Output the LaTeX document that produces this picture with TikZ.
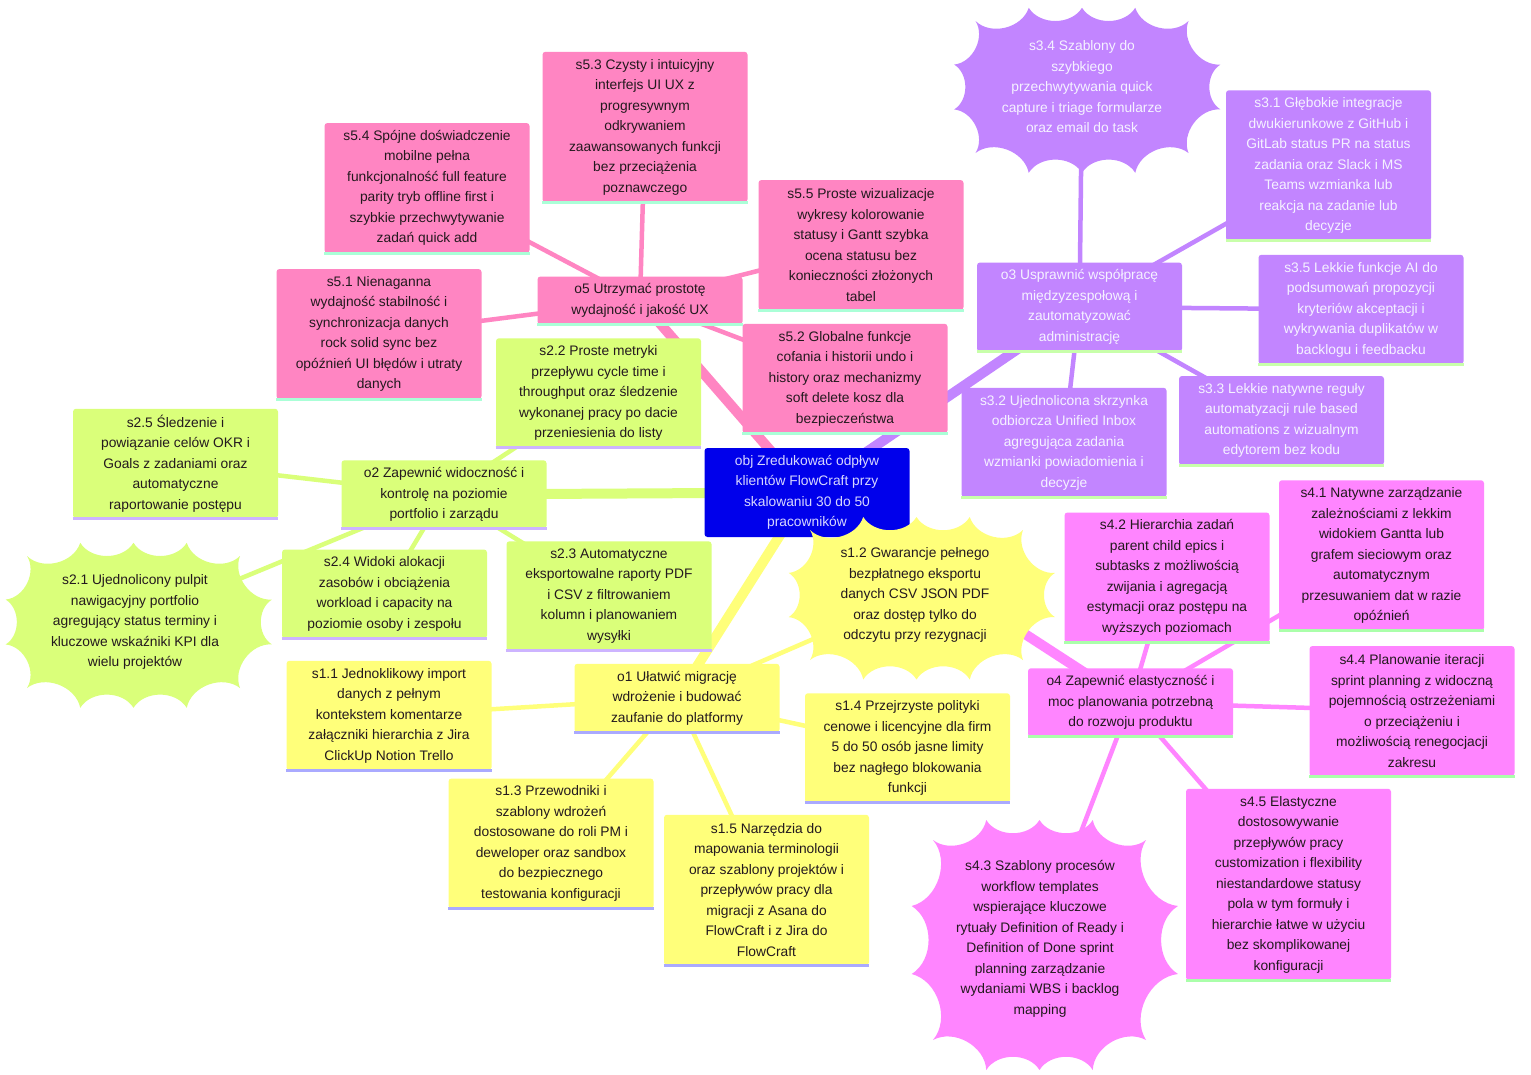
\documentclass[tikz,border=0pt]{standalone}
\usepackage{fontspec}
\setmainfont{Liberation Sans}
\pgfdeclarelayer{background}
\pgfsetlayers{background,main}
\definecolor{cY}{RGB}{255,255,122}
\definecolor{cG}{RGB}{218,255,122}
\definecolor{cP}{RGB}{194,133,255}
\definecolor{cM}{RGB}{255,133,255}
\definecolor{cK}{RGB}{255,133,194}
\definecolor{cRoot}{RGB}{0,0,235}
\definecolor{lY}{RGB}{170,170,255}
\definecolor{lG}{RGB}{205,180,255}
\definecolor{lP}{RGB}{200,255,170}
\definecolor{lM}{RGB}{170,255,170}
\definecolor{lK}{RGB}{170,255,215}
\definecolor{tDark}{RGB}{35,25,30}
\definecolor{tLight}{RGB}{245,242,255}
\definecolor{tRoot}{RGB}{215,215,255}
\tikzset{
  base/.style={rounded corners=3pt, minimum width=205pt, align=center, inner sep=0pt,
    font=\fontsize{13.8pt}{20.5pt}\selectfont},
  nl/.style={minimum height={#1*20.5pt+7pt}},
  ybox/.style={base, fill=cY, text=tDark},
  gbox/.style={base, fill=cG, text=tDark},
  pbox/.style={base, fill=cP, text=tLight},
  mbox/.style={base, fill=cM, text=tDark},
  kbox/.style={base, fill=cK, text=tDark},
  rootbox/.style={base, fill=cRoot, text=tRoot},
  bangtext/.style={align=center, inner sep=0pt, font=\fontsize{13.8pt}{20.5pt}\selectfont},
  redge/.style={line width=10pt},
  cedge/.style={line width=4.5pt},
}
\newcommand{\botline}[2]{\draw[line width=3pt,#2] (#1.south west) -- (#1.south east);}
\newcommand{\bangb}{58}
\newcommand{\bangfill}[5]{%
  \fill[#5] (#1,#2)
  to[bend right=\bangb] ({#1+0.25*#3},{#2-0.1*#4})
  to[bend right=\bangb] ({#1+0.5*#3},{#2-0.1*#4})
  to[bend right=\bangb] ({#1+0.75*#3},{#2-0.1*#4})
  to[bend right=\bangb] ({#1+#3},{#2})
  to[bend right=\bangb] ({#1+1.15*#3},{#2+0.33*#4})
  to[bend right=\bangb] ({#1+1.15*#3},{#2+0.67*#4})
  to[bend right=\bangb] ({#1+#3},{#2+#4})
  to[bend right=\bangb] ({#1+0.75*#3},{#2+1.15*#4})
  to[bend right=\bangb] ({#1+0.5*#3},{#2+1.15*#4})
  to[bend right=\bangb] ({#1+0.25*#3},{#2+1.15*#4})
  to[bend right=\bangb] ({#1},{#2+#4})
  to[bend right=\bangb] ({#1-0.1*#3},{#2+0.67*#4})
  to[bend right=\bangb] ({#1-0.1*#3},{#2+0.33*#4})
  to[bend right=\bangb] (#1,#2) -- cycle;}
\begin{document}
\begin{tikzpicture}[x=1pt,y=-1pt]
\begin{pgfonlayer}{background}
\fill[white] (0,0) rectangle (1531,1074);
\end{pgfonlayer}
\useasboundingbox (0,0) rectangle (1531,1074);

% root
\node[rootbox, nl=4] (root) at (807,492.5) {obj Zredukować odpływ\\klientów FlowCraft przy\\skalowaniu 30 do 50\\pracowników};

% o5 section (pink)
\node[kbox, nl=2] (o5) at (640,300.5) {o5 Utrzymać prostotę\\wydajność i jakość UX};
\node[kbox, nl=7] (s53) at (645,127) {s5.3 Czysty i intuicyjny\\interfejs UI UX z\\progresywnym\\odkrywaniem\\zaawansowanych funkcji\\bez przeciążenia\\poznawczego};
\node[kbox, nl=6] (s54) at (427,188) {s5.4 Spójne doświadczenie\\mobilne pełna\\funkcjonalność full feature\\parity tryb offline first i\\szybkie przechwytywanie\\zadań quick add};
\node[kbox, nl=6] (s55) at (861,245) {s5.5 Proste wizualizacje\\wykresy kolorowanie\\statusy i Gantt szybka\\ocena statusu bez\\konieczności złożonych\\tabel};
\node[kbox, nl=6] (s51) at (379,334) {s5.1 Nienaganna\\wydajność stabilność i\\synchronizacja danych\\rock solid sync bez\\opóźnień UI błędów i utraty\\danych};
\node[kbox, nl=5] (s52) at (845,378.5) {s5.2 Globalne funkcje\\cofania i historii undo i\\history oraz mechanizmy\\soft delete kosz dla\\bezpieczeństwa};
\foreach \n in {o5,s53,s54,s55,s51,s52} {\botline{\n}{lK}}

% o2 section (green)
\node[gbox, nl=3] (o2) at (444,494.5) {o2 Zapewnić widoczność i\\kontrolę na poziomie\\portfolio i zarządu};
\node[gbox, nl=5] (s22) at (598.5,393) {s2.2 Proste metryki\\przepływu cycle time i\\throughput oraz śledzenie\\wykonanej pracy po dacie\\przeniesienia do listy};
\node[gbox, nl=5] (s25) at (175.5,463.5) {s2.5 Śledzenie i\\powiązanie celów OKR i\\Goals z zadaniami oraz\\automatyczne\\raportowanie postępu};
\node[gbox, nl=4] (s24) at (384.5,594) {s2.4 Widoki alokacji\\zasobów i obciążenia\\workload i capacity na\\poziomie osoby i zespołu};
\node[gbox, nl=5] (s23) at (609,596) {s2.3 Automatyczne\\eksportowalne raporty PDF\\i CSV z filtrowaniem\\kolumn i planowaniem\\wysyłki};
\foreach \n in {o2,s22,s25,s24,s23} {\botline{\n}{lG}}
\bangfill{27}{556}{213}{132}{cG}
\node[bangtext, text=tDark] (s21) at (135,622) {s2.1 Ujednolicony pulpit\\nawigacyjny portfolio\\agregujący status terminy i\\kluczowe wskaźniki KPI dla\\wielu projektów};

% o1 section (yellow)
\node[ybox, nl=3] (o1) at (677,698) {o1 Ułatwić migrację\\wdrożenie i budować\\zaufanie do platformy};
\node[ybox, nl=5] (s11) at (389,715.5) {s1.1 Jednoklikowy import\\danych z pełnym\\kontekstem komentarze\\załączniki hierarchia z Jira\\ClickUp Notion Trello};
\node[ybox, nl=6] (s13) at (551,843.5) {s1.3 Przewodniki i\\szablony wdrożeń\\dostosowane do roli PM i\\deweloper oraz sandbox\\do bezpiecznego\\testowania konfiguracji};
\node[ybox, nl=7] (s15) at (766.5,890) {s1.5 Narzędzia do\\mapowania terminologii\\oraz szablony projektów i\\przepływów pracy dla\\migracji z Asana do\\FlowCraft i z Jira do\\FlowCraft};
\node[ybox, nl=5] (s14) at (907.5,748) {s1.4 Przejrzyste polityki\\cenowe i licencyjne dla firm\\5 do 50 osób jasne limity\\bez nagłego blokowania\\funkcji};
\foreach \n in {o1,s11,s13,s15,s14} {\botline{\n}{lY}}
\bangfill{810}{530}{213}{130}{cY}
\node[bangtext, text=tDark] (s12) at (915,595) {s1.2 Gwarancje pełnego\\bezpłatnego eksportu\\danych CSV JSON PDF\\oraz dostęp tylko do\\odczytu przy rezygnacji};

% o3 section (purple)
\node[pbox, nl=4] (o3) at (1079.5,307) {o3 Usprawnić współpracę\\międzyzespołową i\\zautomatyzować\\administrację};
\node[pbox, nl=7] (s31) at (1328.5,165.5) {s3.1 Głębokie integracje\\dwukierunkowe z GitHub i\\GitLab status PR na status\\zadania oraz Slack i MS\\Teams wzmianka lub\\reakcja na zadanie lub\\decyzje};
\node[pbox, nl=5] (s35) at (1361,309.5) {s3.5 Lekkie funkcje AI do\\podsumowań propozycji\\kryteriów akceptacji i\\wykrywania duplikatów w\\backlogu i feedbacku};
\node[pbox, nl=4] (s33) at (1281.5,420.5) {s3.3 Lekkie natywne reguły\\automatyzacji rule based\\automations z wizualnym\\edytorem bez kodu};
\node[pbox, nl=5] (s32) at (1064,442.5) {s3.2 Ujednolicona skrzynka\\odbiorcza Unified Inbox\\agregująca zadania\\wzmianki powiadomienia i\\decyzje};
\foreach \n in {o3,s31,s35,s33,s32} {\botline{\n}{lP}}
\bangfill{975.5}{21}{213}{132}{cP}
\node[bangtext, text=tLight] (s34) at (1082,87) {s3.4 Szablony do\\szybkiego\\przechwytywania quick\\capture i triage formularze\\oraz email do task};

% o4 section (magenta)
\node[mbox, nl=3] (o4) at (1130.5,702.5) {o4 Zapewnić elastyczność i\\moc planowania potrzebną\\do rozwoju produktu};
\node[mbox, nl=6] (s42) at (1167,577.5) {s4.2 Hierarchia zadań\\parent child epics i\\subtasks z możliwością\\zwijania i agregacją\\estymacji oraz postępu na\\wyższych poziomach};
\node[mbox, nl=7] (s41) at (1381.5,555.5) {s4.1 Natywne zarządzanie\\zależnościami z lekkim\\widokiem Gantta lub\\grafem sieciowym oraz\\automatycznym\\przesuwaniem dat w razie\\opóźnień};
\node[mbox, nl=6] (s44) at (1412,711) {s4.4 Planowanie iteracji\\sprint planning z widoczną\\pojemnością ostrzeżeniami\\o przeciążeniu i\\możliwością renegocjacji\\zakresu};
\node[mbox, nl=9] (s45) at (1288.5,884.5) {s4.5 Elastyczne\\dostosowywanie\\przepływów pracy\\customization i flexibility\\niestandardowe statusy\\pola w tym formuły i\\hierarchie łatwe w użyciu\\bez skomplikowanej\\konfiguracji};
\foreach \n in {o4,s42,s41,s44,s45} {\botline{\n}{lM}}
\bangfill{933}{840}{213}{200}{cM}
\node[bangtext, text=tDark] (s43) at (1040,939) {s4.3 Szablony procesów\\workflow templates\\wspierające kluczowe\\rytuały Definition of Ready i\\Definition of Done sprint\\planning zarządzanie\\wydaniami WBS i backlog\\mapping};

% connectors
\begin{pgfonlayer}{background}
\draw[cedge, cK] (o5.center) -- (s53.center);
\draw[cedge, cK] (o5.center) -- (s54.center);
\draw[cedge, cK] (o5.center) -- (s55.center);
\draw[cedge, cK] (o5.center) -- (s51.center);
\draw[cedge, cK] (o5.center) -- (s52.center);
\draw[cedge, cG] (o2.center) -- (s22.center);
\draw[cedge, cG] (o2.center) -- (s25.center);
\draw[cedge, cG] (o2.center) -- (s24.center);
\draw[cedge, cG] (o2.center) -- (s23.center);
\draw[cedge, cG] (o2.center) -- (s21.center);
\draw[cedge, cY] (o1.center) -- (s11.center);
\draw[cedge, cY] (o1.center) -- (s12.center);
\draw[cedge, cY] (o1.center) -- (s13.center);
\draw[cedge, cY] (o1.center) -- (s14.center);
\draw[cedge, cY] (o1.center) -- (s15.center);
\draw[cedge, cP] (o3.center) -- (s31.center);
\draw[cedge, cP] (o3.center) -- (s32.center);
\draw[cedge, cP] (o3.center) -- (s33.center);
\draw[cedge, cP] (o3.center) -- (s34.center);
\draw[cedge, cP] (o3.center) -- (s35.center);
\draw[cedge, cM] (o4.center) -- (s41.center);
\draw[cedge, cM] (o4.center) -- (s42.center);
\draw[cedge, cM] (o4.center) -- (s43.center);
\draw[cedge, cM] (o4.center) -- (s44.center);
\draw[cedge, cM] (o4.center) -- (s45.center);
\draw[redge, cY] (root.center) -- (o1.center);
\draw[redge, cG] (root.center) -- (o2.center);
\draw[redge, cP] (root.center) -- (o3.center);
\draw[redge, cM] (root.center) -- (o4.center);
\draw[redge, cK] (root.center) -- (o5.center);
\end{pgfonlayer}
\end{tikzpicture}
\end{document}
